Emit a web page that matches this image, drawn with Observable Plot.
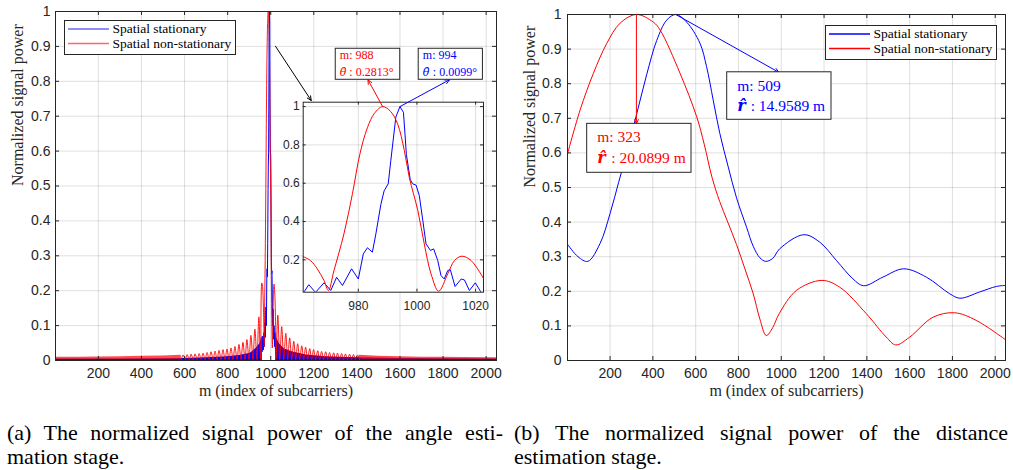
<!DOCTYPE html>
<html><head><meta charset="utf-8">
<script src="https://cdn.jsdelivr.net/npm/d3@7"></script>
<script src="https://cdn.jsdelivr.net/npm/@observablehq/plot@0.6"></script>
<style>
body{margin:0;background:#fff;}
#fig{position:relative;width:1013px;height:470px;overflow:hidden;background:#fff;}
.cap{position:absolute;font-family:"Liberation Serif","Times New Roman",serif;font-size:22px;line-height:24px;color:#000;}
.j{text-align:justify;text-align-last:justify;}
</style></head><body><div id="fig"></div><script>
// ---------------- data ----------------
const seriesNames = ["Spatial stationary", "Spatial non-stationary"];
const xLabel = "m (index of subcarriers)";
const yLabel = "Normalized signal power";
const xTicks = [200,400,600,800,1000,1200,1400,1600,1800,2000];
const xTickLabels = ["200","400","600","800","1000","1200","1400","1600","1800","2000"];
const yTicks = [0,0.1,0.2,0.3,0.4,0.5,0.6,0.7,0.8,0.9,1];
const yTickLabels = ["0","0.1","0.2","0.3","0.4","0.5","0.6","0.7","0.8","0.9","1"];
const insetXTicks = [980,1000,1020];
const insetXTickLabels = ["980","1000","1020"];
const insetYTicks = [0.2,0.4,0.6,0.8,1];
const insetYTickLabels = ["0.2","0.4","0.6","0.8","1"];

// (a) angle stage, zoomed window around the peak
const angStatM = [961.2,963.1,965.4,968.3,970.6,972.6,974.6,977.7,980,981.7,983.1,984.8,986,987.7,988.8,990.2,991.1,992.8,994.2,995.4,996.4,997.7,998.5,999.7,1000.8,1002,1003.1,1004.6,1005.7,1007.1,1008.2,1009.3,1010.5,1011.4,1013,1015.1,1016.2,1017.9,1019.9,1021.9,1022.8];
const angStatP = [0.026,0.07,0.03,0.08,0.04,0.109,0.066,0.153,0.1,0.231,0.263,0.24,0.336,0.49,0.56,0.597,0.72,0.945,1.0,0.97,0.75,0.62,0.597,0.59,0.536,0.405,0.283,0.249,0.257,0.196,0.118,0.1,0.144,0.148,0.061,0.1,0.095,0.04,0.08,0.03,0.03];
const angNonM = [961.2,963.7,966,968.3,969.8,971.7,975.1,978,980.5,983.1,985.5,988.3,991,993.4,995.7,997.4,1000.3,1002.5,1004.8,1007.4,1010.5,1012.8,1015.3,1018.5,1022.8];
const angNonP = [0.217,0.196,0.153,0.092,0.04,0.144,0.336,0.545,0.75,0.89,0.965,1.0,0.975,0.91,0.77,0.63,0.457,0.283,0.127,0.036,0.127,0.196,0.219,0.196,0.1];
// (a) non-stationary sidelobes (peaks / nulls) outside the window
const nonSideLM = [584.5,593.5,603,612,621.5,630.5,640,649,658.5,667.5,677,686,695.5,704.5,714,723,732.5,741.5,751,760,769.5,778.5,788,797,806.5,815.5,825,834,843.5,852.5,862,871,880.5,889.5,899,908,917.5,926.5,936,945,952.5,958.5];
const nonSideLP = [0.003,0.016,0.003,0.017,0.003,0.018,0.003,0.019,0.003,0.020,0.003,0.021,0.003,0.023,0.003,0.025,0.003,0.027,0.003,0.029,0.003,0.031,0.003,0.033,0.003,0.036,0.003,0.040,0.003,0.046,0.003,0.052,0.003,0.060,0.003,0.072,0.003,0.090,0.003,0.125,0.004,0.222];
const nonSideRM = [1025,1033,1042,1051,1060.5,1070,1079,1088,1097.5,1107,1116,1125,1134.5,1144,1153,1162,1171.5,1181,1190,1199,1208.5,1218,1227,1236,1245.5,1255,1264,1273,1282.5,1292,1301,1310,1319.5,1329,1338,1347,1356.5,1366,1375,1384,1393.5,1403,1412];
const nonSideRP = [0.004,0.13,0.003,0.097,0.003,0.078,0.003,0.065,0.003,0.055,0.003,0.048,0.003,0.042,0.003,0.038,0.003,0.034,0.003,0.031,0.003,0.028,0.003,0.026,0.003,0.025,0.003,0.023,0.003,0.022,0.003,0.021,0.003,0.020,0.003,0.019,0.003,0.018,0.003,0.017,0.003,0.016,0.003];
// (a) non-stationary far tails: low / high of the small ripple
const nonTailLM = [1,100,200,300,400,500,585];
const nonTailLHi = [0.009,0.0095,0.010,0.011,0.012,0.013,0.015];
const nonTailLLo = [0.003,0.003,0.003,0.003,0.003,0.003,0.003];
const nonTailRM = [1412,1500,1600,1700,1800,1900,2048];
const nonTailRHi = [0.015,0.0125,0.0105,0.0095,0.009,0.0085,0.008];
const nonTailRLo = [0.003,0.003,0.003,0.003,0.003,0.003,0.003];
// (a) stationary dense ripple: upper envelope outside the window
const statEnvLM = [1,300,500,600,700,800,860,906,929,949,961];
const statEnvLP = [0.004,0.004,0.005,0.006,0.008,0.011,0.015,0.021,0.033,0.047,0.07];
const statEnvRM = [1023,1026,1041,1064,1103,1165,1258,1400,1600,1800,2048];
const statEnvRP = [0.08,0.067,0.047,0.033,0.024,0.016,0.011,0.008,0.006,0.005,0.004];

// (b) distance stage
const distStatM = [1,50,96,153,200,240,278,325,371,418,465,507,558,620,651,682,713,752,791,838,869,900,927,960,993,1105,1180,1258,1335,1385,1475,1572,1678,1787,1835,1927,2005,2048];
const distStatP = [0.336,0.300,0.2865,0.338,0.425,0.515,0.600,0.714,0.826,0.925,0.984,1.0,0.978,0.917,0.849,0.7525,0.656,0.56,0.47,0.385,0.33,0.297,0.2865,0.295,0.323,0.3636,0.342,0.289,0.236,0.216,0.241,0.265,0.241,0.193,0.18,0.198,0.214,0.217];
const distNonM = [1,60,122,185,247,323,402,434,527,605,640,677,712,750,791,830,869,900,930,960,990,1071,1190,1273,1398,1491,1535,1600,1709,1810,1911,2048];
const distNonP = [0.597,0.724,0.83,0.917,0.975,1.0,0.978,0.955,0.83,0.704,0.625,0.528,0.46,0.40,0.335,0.265,0.193,0.12,0.072,0.095,0.135,0.2026,0.2315,0.212,0.135,0.0675,0.045,0.0675,0.125,0.138,0.116,0.06];

// ---------------- helpers ----------------
const SERIF = "'Liberation Serif','Times New Roman',serif";
const SYMF = "'DejaVu Serif','Liberation Serif',serif";
const SANS = "'Liberation Sans',Arial,Helvetica,sans-serif";
const AX = "#262626";
const fig = document.getElementById("fig");
const rows = (M, P) => M.map((m, i) => ({m, v: P[i]}));
const band = (M, lo, hi) => M.map((m, i) => ({m, lo: lo[i], hi: hi[i]}));
function place(el, left, top) {
  el.style.position = "absolute"; el.style.left = left + "px"; el.style.top = top + "px";
  el.style.maxWidth = "none"; fig.appendChild(el);
}
function panel(o) {
  const pw = o.width - o.ml - o.mr, ph = o.height - o.mt - o.mb;
  const tx = o.tick / pw * (o.xDomain[1] - o.xDomain[0]);
  const ty = o.tick / ph * (o.yDomain[1] - o.yDomain[0]);
  const xmap = new Map(o.xT.map((d, i) => [d, o.xL[i]]));
  const ymap = new Map(o.yT.map((d, i) => [d, o.yL[i]]));
  const [x0, x1] = o.xDomain, [y0, y1] = o.yDomain;
  return Plot.plot({
    width: o.width, height: o.height,
    marginLeft: o.ml, marginRight: o.mr, marginTop: o.mt, marginBottom: o.mb,
    x: {domain: o.xDomain}, y: {domain: o.yDomain},
    style: {background: o.background, fontFamily: SANS, fontSize: o.fontSize + "px", overflow: "visible", color: AX},
    marks: [
      Plot.frame({fill: "white", stroke: "none"}),
      Plot.gridX(o.xT, {stroke: AX, strokeOpacity: 0.15}),
      Plot.gridY(o.yT, {stroke: AX, strokeOpacity: 0.15}),
      ...o.marks,
      Plot.frame({stroke: AX, strokeWidth: 1}),
      Plot.ruleX(o.xT, {x: d => d, y1: y0, y2: y0 + ty, stroke: AX}),
      Plot.ruleX(o.xT, {x: d => d, y1: y1 - ty, y2: y1, stroke: AX}),
      Plot.ruleY(o.yT, {y: d => d, x1: x0, x2: x0 + tx, stroke: AX}),
      Plot.ruleY(o.yT, {y: d => d, x1: x1 - tx, x2: x1, stroke: AX}),
      Plot.axisX(o.xT, {tickSize: 0, tickPadding: o.xPad, tickFormat: d => xmap.get(d), label: null, fontSize: o.fontSize, fill: AX}),
      Plot.axisY(o.yT, {tickSize: 0, tickPadding: o.yPad, tickFormat: d => ymap.get(d), label: null, fontSize: o.fontSize, fill: AX}),
      ...(o.labels ? [
        Plot.text([xLabel], {frameAnchor: "bottom", dy: 35, fontFamily: SERIF, fontSize: 16, fill: AX}),
        Plot.text([yLabel], {frameAnchor: "left", dx: -38, rotate: -90, fontFamily: SERIF, fontSize: 16, fill: AX})
      ] : []),
      ...(o.after || [])
    ]
  });
}
function noteMarks(notes, fs, sf) {
  const out = [];
  for (const n of notes) {
    out.push(Plot.arrow([n], {x1: "ax", y1: "ay", x2: "bx", y2: "by", stroke: n.color, strokeWidth: 1, headLength: 7, headAngle: 50}));
    out.push(Plot.rect([n], {x1: "bx1", x2: "bx2", y1: "by1", y2: "by2", fill: "white", stroke: AX, strokeWidth: 1}));
    out.push(Plot.text([n], {x: "tx", y: "ty1", text: "l1", fill: n.color, fontFamily: SERIF, fontSize: fs, textAnchor: "start", lineAnchor: "bottom"}));
    out.push(Plot.text([n], {x: "tx", y: "ty2", text: "sym", fill: n.color, fontFamily: SYMF, fontSize: sf.size, fontStyle: "italic", fontWeight: sf.weight, textAnchor: "start", lineAnchor: "bottom"}));
    out.push(Plot.text([n], {x: "tx", y: "ty2", dx: n.dx, text: "l2", fill: n.color, fontFamily: SERIF, fontSize: fs, textAnchor: "start", lineAnchor: "bottom"}));
  }
  return out;
}
function legend(left, top, lineOpacity) {
  const svg = d3.create("svg").attr("width", 172).attr("height", 35);
  svg.append("rect").attr("x", 0.5).attr("y", 0.5).attr("width", 171).attr("height", 34)
    .attr("fill", "white").attr("stroke", AX);
  ["blue", "red"].forEach((c, i) => {
    const y = 9 + i * 14.5;
    svg.append("line").attr("x1", 4).attr("x2", 45).attr("y1", y).attr("y2", y)
      .attr("stroke", c).attr("stroke-width", 1.3).attr("stroke-opacity", lineOpacity);
    svg.append("text").attr("x", 48.5).attr("y", y + 4).text(seriesNames[i])
      .attr("font-family", SERIF).attr("font-size", 13.5).attr("fill", "#000");
  });
  place(svg.node(), left, top);
}

// ---------------- (a) angle stage ----------------
const nonMain = [...rows(nonSideLM, nonSideLP), ...rows(angNonM, angNonP), ...rows(nonSideRM, nonSideRP)];
const left = panel({
  width: 506, height: 400, ml: 55, mr: 10, mt: 11, mb: 40,
  xDomain: [1, 2048], yDomain: [0, 1], xT: xTicks, xL: xTickLabels, yT: yTicks, yL: yTickLabels,
  tick: 4, fontSize: 14, xPad: 8, yPad: 5, background: "white", labels: true,
  marks: [
    Plot.areaY(rows(statEnvLM, statEnvLP), {x: "m", y: "v", fill: "blue"}),
    Plot.areaY(rows(statEnvRM, statEnvRP), {x: "m", y: "v", fill: "blue"}),
    Plot.line(rows(angStatM, angStatP), {x: "m", y: "v", stroke: "blue", strokeWidth: 1}),
    Plot.areaY(band(nonTailLM, nonTailLLo, nonTailLHi), {x: "m", y1: "lo", y2: "hi", fill: "red", fillOpacity: 0.7}),
    Plot.areaY(band(nonTailRM, nonTailRLo, nonTailRHi), {x: "m", y1: "lo", y2: "hi", fill: "red", fillOpacity: 0.7}),
    Plot.line(nonMain, {x: "m", y: "v", stroke: "red", strokeOpacity: 0.9, strokeWidth: 1, curve: "catmull-rom"})
  ],
  after: [
    Plot.arrow([{ax: 1022, ay: 0.9006, bx: 1188, by: 0.745}], {x1: "ax", y1: "ay", x2: "bx", y2: "by", stroke: "black", strokeWidth: 1, headLength: 7, headAngle: 50})
  ]
});
place(left, 0, 0);

const angleNotes = [
  {color: "red", ax: 988.3, ay: 1.0, bx: 983.3, by: 1.14, bx1: 972.3, bx2: 994.3, by1: 1.14, by2: 1.302,
   tx: 973.7, ty1: 1.2496, ty2: 1.162, dx: 9.5, l1: "m: 988", sym: "\u03B8\u0302", l2: ": 0.2813\u00B0"},
  {color: "blue", ax: 994.2, ay: 1.0, bx: 1011.1, by: 1.14, bx1: 1000.6, bx2: 1022.5, by1: 1.14, by2: 1.302,
   tx: 1002, ty1: 1.2496, ty2: 1.162, dx: 10, l1: "m: 994", sym: "\u03B8\u0302", l2: ": 0.0099\u00B0"}
];
const inset = panel({
  width: 210, height: 272, ml: 22.7, mr: 7, mt: 61.7, mb: 20.3,
  xDomain: [961.2, 1022.7], yDomain: [0.031, 1.023], xT: insetXTicks, xL: insetXTickLabels,
  yT: insetYTicks, yL: insetYTickLabels, tick: 3, fontSize: 12, xPad: 9.5, yPad: 3.5,
  background: "transparent", labels: false,
  marks: [
    Plot.line(rows(angStatM, angStatP), {x: "m", y: "v", stroke: "blue", strokeWidth: 1, clip: true}),
    Plot.line(rows(angNonM, angNonP), {x: "m", y: "v", stroke: "red", strokeWidth: 1, curve: "catmull-rom", clip: true})
  ],
  after: noteMarks(angleNotes, 12, {size: 11, weight: "normal"})
});
place(inset, 280, 40);
legend(64, 20, 0.6);

// ---------------- (b) distance stage ----------------
const distNotes = [
  {color: "red", ax: 323, ay: 1.0, bx: 323, by: 0.684, bx1: 93, bx2: 580.5, by1: 0.5425, by2: 0.684,
   tx: 139.8, ty1: 0.631, ty2: 0.572, dx: 14, l1: "m: 323", sym: "r\u0302", l2: ": 20.0899 m"},
  {color: "blue", ax: 507, ay: 1.0, bx: 988.5, by: 0.833, bx1: 747.4, bx2: 1234.8, by1: 0.6957, by2: 0.833,
   tx: 794, ty1: 0.778, ty2: 0.7225, dx: 13.5, l1: "m: 509", sym: "r\u0302", l2: ": 14.9589 m"}
];
const right = panel({
  width: 507, height: 400, ml: 61, mr: 8, mt: 14, mb: 40,
  xDomain: [1, 2048], yDomain: [0, 1], xT: xTicks, xL: xTickLabels, yT: yTicks, yL: yTickLabels,
  tick: 4, fontSize: 14, xPad: 8, yPad: 6, background: "white", labels: true,
  marks: [
    Plot.line(rows(distStatM, distStatP), {x: "m", y: "v", stroke: "blue", strokeWidth: 1, curve: "catmull-rom"}),
    Plot.line(rows(distNonM, distNonP), {x: "m", y: "v", stroke: "red", strokeWidth: 1, curve: "catmull-rom"})
  ],
  after: noteMarks(distNotes, 15.5, {size: 16, weight: "bold"})
});
place(right, 506, 0);
legend(825, 25, 1);

// ---------------- captions ----------------
function cap(html, left, top, width, cls) {
  const d = document.createElement("div");
  d.className = "cap " + (cls || ""); d.style.left = left + "px"; d.style.top = top + "px"; d.style.width = width + "px";
  d.innerHTML = html; fig.appendChild(d);
}
cap("(a) The normalized signal power of the angle esti-", 7, 421, 496, "j");
cap("mation stage.", 7, 445, 496, "");
cap("(b) The normalized signal power of the distance", 514, 421, 494, "j");
cap("estimation stage.", 514, 445, 494, "");
</script></body></html>
